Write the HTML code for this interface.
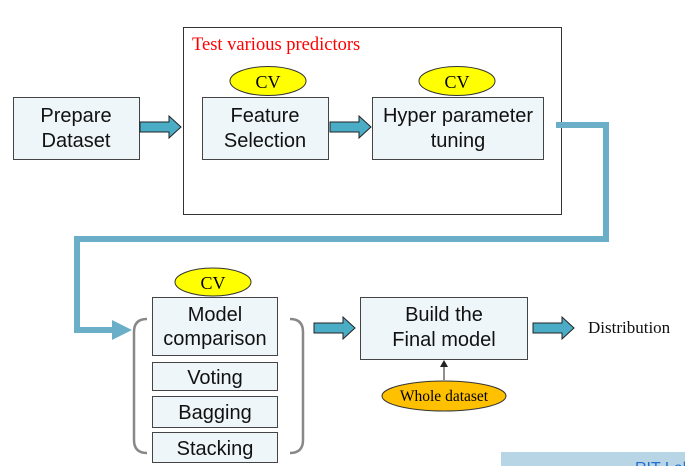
<!DOCTYPE html>
<html><head><meta charset="utf-8"><style>
html,body{margin:0;padding:0;background:#fff;width:685px;height:466px;overflow:hidden}
svg{display:block}
.s{font-family:"Liberation Sans",sans-serif;font-size:20px;fill:#111}
.r{font-family:"Liberation Serif",serif}
</style></head><body>
<svg width="685" height="466" viewBox="0 0 685 466" xmlns="http://www.w3.org/2000/svg">
<defs>
<g id="ar"><path d="M0,-5 H29 V-11 L41,0 L29,11 V5 H0 Z" fill="#4bacc6" stroke="#222" stroke-width="1"/></g>
</defs>
<rect x="183.5" y="27.5" width="378" height="187" fill="none" stroke="#333" stroke-width="1"/>
<text x="192" y="50" class="r" font-size="18.5" fill="#f00">Test various predictors</text>
<rect x="13.5" y="97.5" width="126" height="62" fill="#eef6fa" stroke="#444"/>
<text x="76" y="122" class="s" text-anchor="middle">Prepare</text>
<text x="76" y="147" class="s" text-anchor="middle">Dataset</text>
<use href="#ar" x="140" y="127"/>
<ellipse cx="268" cy="81" rx="38" ry="14.5" fill="#ffff00" stroke="#333"/>
<text x="268" y="88" class="r" font-size="18" text-anchor="middle">CV</text>
<rect x="202.5" y="97.5" width="126" height="62" fill="#eef6fa" stroke="#444"/>
<text x="265" y="122" class="s" text-anchor="middle">Feature</text>
<text x="265" y="147" class="s" text-anchor="middle">Selection</text>
<use href="#ar" x="330" y="127"/>
<ellipse cx="457" cy="81" rx="38" ry="14.5" fill="#ffff00" stroke="#333"/>
<text x="457" y="88" class="r" font-size="18" text-anchor="middle">CV</text>
<rect x="372.5" y="97.5" width="171" height="62" fill="#eef6fa" stroke="#444"/>
<text x="458" y="122" class="s" text-anchor="middle">Hyper parameter</text>
<text x="458" y="147" class="s" text-anchor="middle">tuning</text>
<polyline points="556,125 606,125 606,239 77,239 77,330 115,330" fill="none" stroke="#6aaec8" stroke-width="6"/>
<path d="M112,320 L132,330 L112,340 Z" fill="#6aaec8"/>
<ellipse cx="213" cy="282" rx="38" ry="14" fill="#ffff00" stroke="#333"/>
<text x="213" y="289" class="r" font-size="18" text-anchor="middle">CV</text>
<rect x="152.5" y="297.5" width="125" height="58" fill="#eef6fa" stroke="#444"/>
<text x="215" y="321" class="s" text-anchor="middle">Model</text>
<text x="215" y="345" class="s" text-anchor="middle">comparison</text>
<rect x="152.5" y="362.5" width="125" height="28" fill="#eef6fa" stroke="#444"/>
<text x="215" y="384" class="s" text-anchor="middle">Voting</text>
<rect x="152.5" y="396.5" width="125" height="31" fill="#eef6fa" stroke="#444"/>
<text x="215" y="419" class="s" text-anchor="middle">Bagging</text>
<rect x="152.5" y="432.5" width="125" height="30" fill="#eef6fa" stroke="#444"/>
<text x="215" y="455" class="s" text-anchor="middle">Stacking</text>
<path d="M147,319 Q134,319 134,332 V440 Q134,453 147,453" fill="none" stroke="#888" stroke-width="2.5"/>
<path d="M290,319 Q303,319 303,332 V440 Q303,453 290,453" fill="none" stroke="#888" stroke-width="2.5"/>
<use href="#ar" x="314" y="328"/>
<rect x="360.5" y="297.5" width="167" height="62" fill="#eef6fa" stroke="#444"/>
<text x="444" y="321" class="s" text-anchor="middle">Build the</text>
<text x="444" y="346" class="s" text-anchor="middle">Final model</text>
<use href="#ar" x="533" y="328"/>
<text x="588" y="333" class="r" font-size="17" fill="#111">Distribution</text>
<line x1="444" y1="380" x2="444" y2="366" stroke="#222" stroke-width="1"/>
<path d="M440,367 L444,360 L448,367 Z" fill="#222"/>
<ellipse cx="444" cy="396" rx="62" ry="15" fill="#ffc000" stroke="#333"/>
<text x="444" y="401" class="r" font-size="15.5" text-anchor="middle">Whole dataset</text>
<rect x="501" y="452" width="184" height="14" fill="#b7d5e4"/>
<text x="635" y="473" font-family="Liberation Sans,sans-serif" font-size="16" fill="#1f6fd0">RIT Lab</text>
</svg>
</body></html>
